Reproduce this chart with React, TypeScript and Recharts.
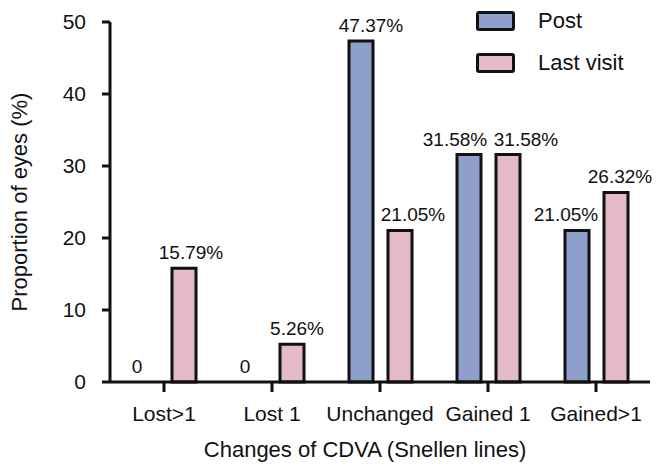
import { BarChart, Bar, XAxis, YAxis, LabelList, Rectangle } from "recharts";

const categories = ["Lost>1", "Lost 1", "Unchanged", "Gained 1", "Gained>1"];
const post = [0, 0, 47.37, 31.58, 21.05];
const lastVisit = [15.79, 5.26, 21.05, 31.58, 26.32];
const yTicks = [0, 10, 20, 30, 40, 50];

// small horizontal nudges of the value labels, as in the original figure
const postLabelDx = [-8, -8, 10, -14, -11];
const lastLabelDx = [7, 5, 13, 18, 4];

const data = categories.map((name, i) => ({
  name,
  Post: post[i],
  "Last visit": lastVisit[i],
}));

const BLUE = "#8f9fcc";
const PINK = "#e4bac6";
const INK = "#111";
const FONT = "'Liberation Sans', Arial, sans-serif";

const fmt = (v: number) => (v === 0 ? "0" : `${v.toFixed(2)}%`);

function valueText(x: number, y: number, v: number, key?: string) {
  return (
    <text
      key={key}
      x={x}
      y={y}
      textAnchor="middle"
      fill={INK}
      fontSize={19}
      fontFamily={FONT}
    >
      {fmt(v)}
    </text>
  );
}

function makeLabel(nudges: number[]) {
  return (props: any) => {
    const { x, y, width, value, index } = props;
    if (Number(value) === 0) return null;
    return valueText(
      Number(x) + Number(width) / 2 + nudges[index],
      Number(y) - 9,
      Number(value)
    );
  };
}

// bar shape that also writes the "0" of empty bars
function makeShape(nudges: number[]) {
  return (props: any) => {
    const { x, y, width, height, value, index } = props;
    const v = Array.isArray(value) ? value[1] - value[0] : Number(value);
    return (
      <g>
        {height > 0 && <Rectangle {...props} />}
        {v === 0 &&
          valueText(Number(x) + Number(width) / 2 + nudges[index], Number(y) - 9, 0)}
      </g>
    );
  };
}

function LegendBox() {
  const items = [
    { label: "Post", color: BLUE },
    { label: "Last visit", color: PINK },
  ];
  return (
    <div
      style={{
        position: "absolute",
        left: 476,
        top: 0,
        fontFamily: FONT,
        fontSize: 22,
        color: INK,
      }}
    >
      {items.map((it) => (
        <div
          key={it.label}
          style={{ display: "flex", alignItems: "center", height: 42 }}
        >
          <div
            style={{
              width: 33,
              height: 14,
              background: it.color,
              border: `3px solid ${INK}`,
              borderRadius: 3,
              marginRight: 23,
            }}
          />
          <span>{it.label}</span>
        </div>
      ))}
    </div>
  );
}

export default function App() {
  return (
    <div
      style={{
        position: "absolute",
        left: 0,
        top: 0,
        width: 658,
        height: 470,
        background: "#fff",
      }}
    >
      <BarChart
        width={658}
        height={470}
        data={data}
        margin={{ top: 22, right: 8, left: 50, bottom: 58 }}
        barSize={24}
        barGap={15}
      >
        <XAxis
          dataKey="name"
          height={30}
          axisLine={{ stroke: INK, strokeWidth: 3 }}
          tickLine={{ stroke: INK, strokeWidth: 3 }}
          tickSize={10}
          tickMargin={14}
          tick={{ fill: INK, fontSize: 21, fontFamily: FONT }}
          interval={0}
          label={{
            value: "Changes of CDVA (Snellen lines)",
            position: "insideBottom",
            offset: -45,
            dx: -15,
            fill: INK,
            fontSize: 22,
            fontFamily: FONT,
          }}
        />
        <YAxis
          width={60}
          domain={[0, 50]}
          ticks={yTicks}
          axisLine={{ stroke: INK, strokeWidth: 3 }}
          tickLine={{ stroke: INK, strokeWidth: 3 }}
          tickSize={8}
          tickMargin={16}
          tick={{ fill: INK, fontSize: 21, fontFamily: FONT }}
          label={{
            value: "Proportion of eyes (%)",
            angle: -90,
            position: "insideLeft",
            offset: -31,
            style: { textAnchor: "middle" },
            fill: INK,
            fontSize: 22,
            fontFamily: FONT,
          }}
        />
        <Bar
          dataKey="Post"
          fill={BLUE}
          stroke={INK}
          strokeWidth={3}
          shape={makeShape(postLabelDx)}
          isAnimationActive={false}
        >
          <LabelList dataKey="Post" content={makeLabel(postLabelDx)} />
        </Bar>
        <Bar
          dataKey="Last visit"
          fill={PINK}
          stroke={INK}
          strokeWidth={3}
          isAnimationActive={false}
        >
          <LabelList dataKey="Last visit" content={makeLabel(lastLabelDx)} />
        </Bar>
      </BarChart>
      <LegendBox />
    </div>
  );
}
